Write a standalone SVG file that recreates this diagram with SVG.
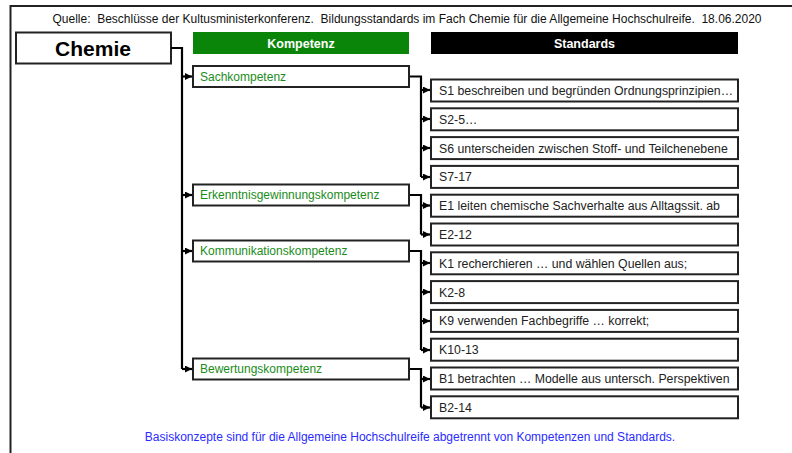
<svg xmlns="http://www.w3.org/2000/svg" width="792" height="453" viewBox="0 0 792 453">
<style>
text{font-family:"Liberation Sans",Arial,sans-serif;white-space:pre}
.box{fill:#fff;stroke:#222;stroke-width:2}
.std{font-size:12.3px;fill:#222}
.komp{font-size:12px;fill:#1a8c1a}
.hdr{font-size:12.5px;font-weight:bold;fill:#fff}
.ln{fill:none;stroke:#000;stroke-width:2.2}
</style>
<defs>
<marker id="ah" viewBox="0 0 8 8" refX="8" refY="4" markerWidth="7" markerHeight="7" markerUnits="userSpaceOnUse" orient="auto">
<path d="M0,0 L8,4 L0,8 z" fill="#000"/>
</marker>
</defs>
<rect x="10.5" y="6" width="800" height="470" fill="#fff" stroke="#222" stroke-width="2"/>
<text x="407" y="23" font-size="12" text-anchor="middle" fill="#111">Quelle:  Beschlüsse der Kultusministerkonferenz.  Bildungsstandards im Fach Chemie für die Allgemeine Hochschulreife.  18.06.2020</text>

<g id="chemie"><rect class="box" x="16" y="32.5" width="155" height="31"/><text x="93" y="56" font-size="21" font-weight="bold" text-anchor="middle" fill="#000">Chemie</text></g>
<g id="kompetenz-header"><rect x="193" y="32" width="216" height="22" fill="#0a850a"/><text class="hdr" x="301" y="47.5" text-anchor="middle">Kompetenz</text></g>
<g id="standards-header"><rect x="431" y="32" width="307" height="22" fill="#000"/><text class="hdr" x="584.5" y="47.5" text-anchor="middle">Standards</text></g>

<g id="connectors">
<path class="ln" d="M171,48 H182 V369"/>
<path class="ln" d="M182,76.5 H192" marker-end="url(#ah)"/>
<path class="ln" d="M182,195 H192" marker-end="url(#ah)"/>
<path class="ln" d="M182,251 H192" marker-end="url(#ah)"/>
<path class="ln" d="M182,369 H192" marker-end="url(#ah)"/>

<path class="ln" d="M409,76.5 H421 V177"/>
<path class="ln" d="M421,90 H430" marker-end="url(#ah)"/>
<path class="ln" d="M421,119 H430" marker-end="url(#ah)"/>
<path class="ln" d="M421,148 H430" marker-end="url(#ah)"/>
<path class="ln" d="M421,177 H430" marker-end="url(#ah)"/>

<path class="ln" d="M409,195 H421 V234.5"/>
<path class="ln" d="M421,205.5 H430" marker-end="url(#ah)"/>
<path class="ln" d="M421,234.5 H430" marker-end="url(#ah)"/>

<path class="ln" d="M409,251 H421 V350"/>
<path class="ln" d="M421,263 H430" marker-end="url(#ah)"/>
<path class="ln" d="M421,292 H430" marker-end="url(#ah)"/>
<path class="ln" d="M421,321 H430" marker-end="url(#ah)"/>
<path class="ln" d="M421,350 H430" marker-end="url(#ah)"/>

<path class="ln" d="M409,369 H421 V407.5"/>
<path class="ln" d="M421,379 H430" marker-end="url(#ah)"/>
<path class="ln" d="M421,407.5 H430" marker-end="url(#ah)"/>
</g>

<g id="sachkompetenz"><rect class="box" x="193" y="66" width="216" height="21"/><text class="komp" x="200" y="80.5">Sachkompetenz</text></g>
<g id="erkenntnis"><rect class="box" x="193" y="184.5" width="216" height="21"/><text class="komp" x="200" y="199">Erkenntnisgewinnungskompetenz</text></g>
<g id="kommunikation"><rect class="box" x="193" y="240.5" width="216" height="21"/><text class="komp" x="200" y="255">Kommunikationskompetenz</text></g>
<g id="bewertung"><rect class="box" x="193" y="358.5" width="216" height="21"/><text class="komp" x="200" y="373">Bewertungskompetenz</text></g>

<g id="s1"><rect class="box" x="431" y="79.5" width="307" height="22"/><text class="std" x="439" y="95">S1 beschreiben und begründen Ordnungsprinzipien…</text></g>
<g id="s2"><rect class="box" x="431" y="108.3" width="307" height="22"/><text class="std" x="439" y="123.8">S2-5…</text></g>
<g id="s6"><rect class="box" x="431" y="137.1" width="307" height="22"/><text class="std" x="439" y="152.6">S6 unterscheiden zwischen Stoff- und Teilchenebene</text></g>
<g id="s7"><rect class="box" x="431" y="165.9" width="307" height="22"/><text class="std" x="439" y="181.4">S7-17</text></g>
<g id="e1"><rect class="box" x="431" y="194.7" width="307" height="22"/><text class="std" x="439" y="210.2">E1 leiten chemische Sachverhalte aus Alltagssit. ab</text></g>
<g id="e2"><rect class="box" x="431" y="223.5" width="307" height="22"/><text class="std" x="439" y="239">E2-12</text></g>
<g id="k1"><rect class="box" x="431" y="252.3" width="307" height="22"/><text class="std" x="439" y="267.8">K1 recherchieren … und wählen Quellen aus;</text></g>
<g id="k2"><rect class="box" x="431" y="281.1" width="307" height="22"/><text class="std" x="439" y="296.6">K2-8</text></g>
<g id="k9"><rect class="box" x="431" y="309.9" width="307" height="22"/><text class="std" x="439" y="325.4">K9 verwenden Fachbegriffe … korrekt;</text></g>
<g id="k10"><rect class="box" x="431" y="338.7" width="307" height="22"/><text class="std" x="439" y="354.2">K10-13</text></g>
<g id="b1"><rect class="box" x="431" y="367.5" width="307" height="22"/><text class="std" x="439" y="383">B1 betrachten … Modelle aus untersch. Perspektiven</text></g>
<g id="b2"><rect class="box" x="431" y="396.3" width="307" height="22"/><text class="std" x="439" y="411.8">B2-14</text></g>

<text x="410" y="441" font-size="12" text-anchor="middle" fill="#2b2bff">Basiskonzepte sind für die Allgemeine Hochschulreife abgetrennt von Kompetenzen und Standards.</text>
</svg>
